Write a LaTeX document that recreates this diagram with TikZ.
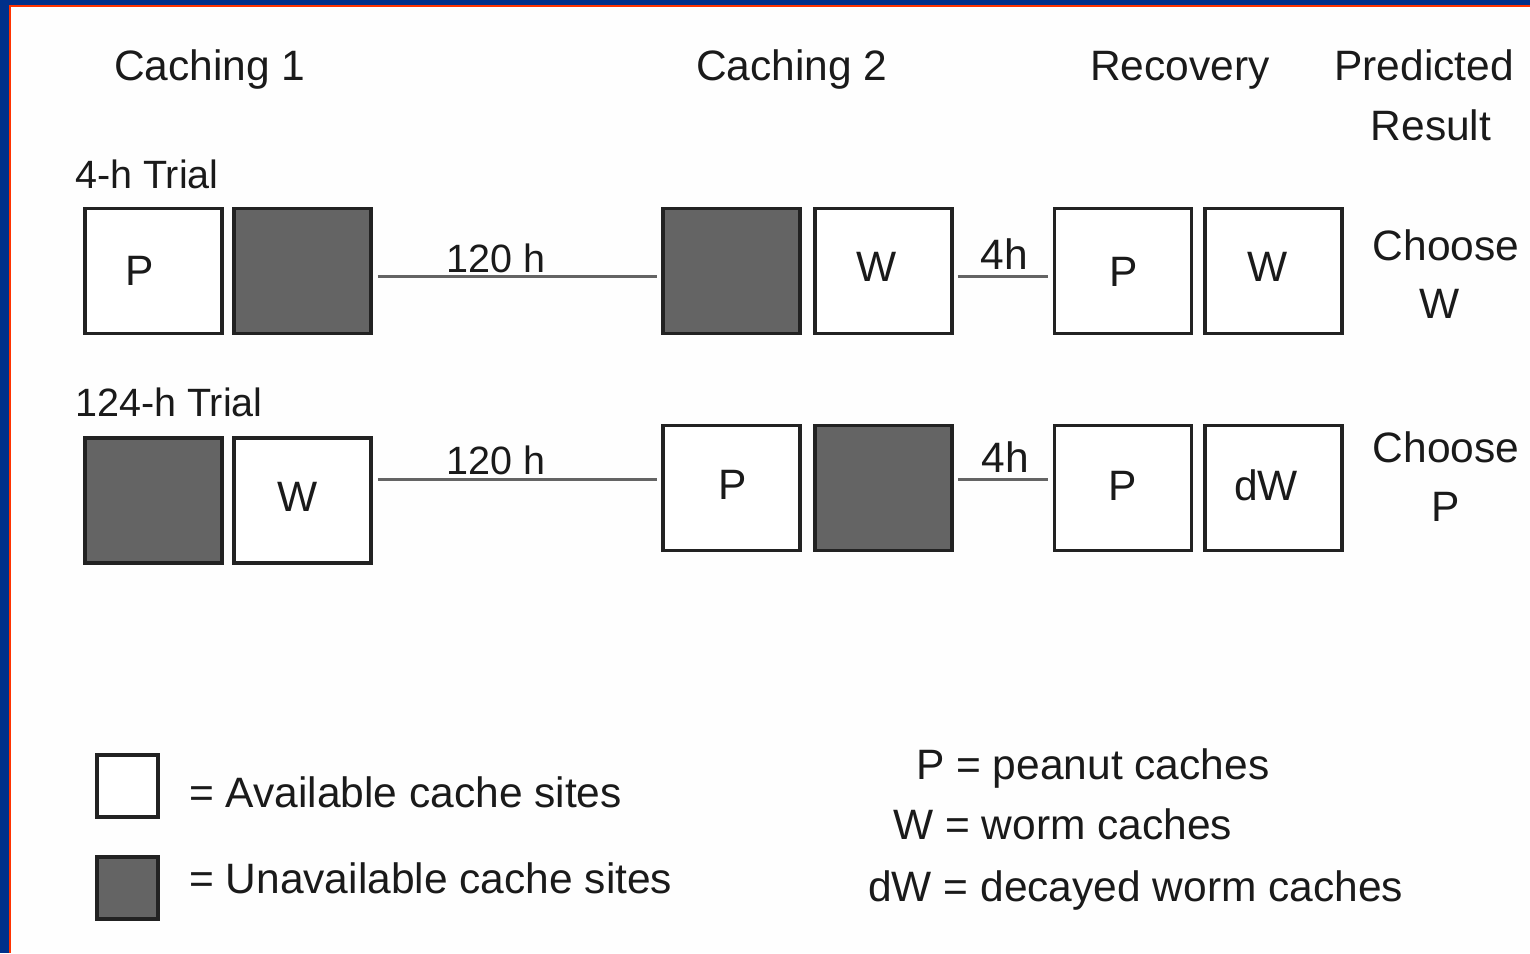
\documentclass[tikz,border=0pt]{standalone}
\usepackage{fontspec}
\setmainfont{Liberation Sans}
\definecolor{frameblue}{HTML}{00308A}
\definecolor{framered}{HTML}{FF3300}
\definecolor{bg}{HTML}{FEFEFE}
\definecolor{boxline}{HTML}{222222}
\definecolor{darkfill}{HTML}{646464}
\definecolor{linegray}{HTML}{646464}
\definecolor{txt}{HTML}{1A1A1A}
\tikzset{
  site/.style={draw=boxline, line width=3.5pt, minimum width=137pt, minimum height=125pt, inner sep=0pt},
  avail/.style={site, fill=white},
  unavail/.style={site, fill=darkfill},
  legbox/.style={draw=boxline, line width=3.5pt, minimum width=61pt, minimum height=62pt, inner sep=0pt},
  conn/.style={draw=linegray, line width=3pt},
  lbl/.style={inner sep=0pt, text=txt, font=\fontsize{42.5}{50}\selectfont},
  lblc/.style={lbl, anchor=base},
  lblw/.style={lbl, anchor=base west},
  small/.style={font=\fontsize{39.5}{47}\selectfont}
}
\begin{document}
\begin{tikzpicture}[x=1pt,y=-1pt]
\useasboundingbox (0,0) rectangle (1530,953);
\fill[frameblue] (0,0) rectangle (1530,953);
\fill[framered] (9,5) rectangle (1530,953);
\fill[bg] (11,7) rectangle (1530,953);

% headers
\node[lblw] (h1) at (114,80) {Caching 1};
\node[lblw] (h2) at (696,80) {Caching 2};
\node[lblw] (h3) at (1090,80) {Recovery};
\node[lblc] (h4) at (1424,80) {Predicted};
\node[lblc] (h5) at (1431,140) {Result};

% row 1
\node[lblw, small] (t1) at (75,188) {4-h Trial};
\node[avail]   (r1b1) at (153.5,271) {};
\node[unavail] (r1b2) at (302.5,271) {};
\node[unavail] (r1b3) at (731.5,271) {};
\node[avail]   (r1b4) at (883.5,271) {};
\node[avail]   (r1b5) at (1123,271) {};
\node[avail]   (r1b6) at (1273.5,271) {};
\node[lblc] (r1p1) at (140,285.5) {P};
\node[lblc] (r1w4) at (877,281.5) {W};
\node[lblc] (r1p5) at (1124,286) {P};
\node[lblc] (r1w6) at (1268,281.5) {W};
\draw[conn] ([xshift=5pt,yshift=-5pt]r1b2.east) -- ([xshift=-4pt,yshift=-5pt]r1b3.west);
\draw[conn] ([xshift=4pt,yshift=-5pt]r1b4.east) -- ([xshift=-5pt,yshift=-5pt]r1b5.west);
\node[lblc, small] (r1l1) at (496,272) {120 h};
\node[lblc] (r1l2) at (1004,269) {4h};
\node[lblc] (r1c1) at (1446,260) {Choose};
\node[lblc] (r1c2) at (1440,318) {W};

% row 2
\node[lblw, small] (t2) at (75,416) {124-h Trial};
\node[unavail] (r2b1) at (153.5,500.5) {};
\node[avail]   (r2b2) at (302.5,500.5) {};
\node[avail]   (r2b3) at (731.5,488) {};
\node[unavail] (r2b4) at (883.5,488) {};
\node[avail]   (r2b5) at (1123,488) {};
\node[avail]   (r2b6) at (1273.5,488) {};
\node[lblc] (r2w2) at (297.5,511.5) {W};
\node[lblc] (r2p3) at (732.5,499) {P};
\node[lblc] (r2p5) at (1123,500.5) {P};
\node[lblc] (r2d6) at (1266,500.5) {dW};
\draw[conn] ([xshift=5pt,yshift=21.5pt]r2b2.east) -- ([xshift=-4pt,yshift=9pt]r2b3.west);
\draw[conn] ([xshift=4pt,yshift=9pt]r2b4.east) -- ([xshift=-5pt,yshift=9pt]r2b5.west);
\node[lblc, small] (r2l1) at (496,474) {120 h};
\node[lblc] (r2l2) at (1005,472) {4h};
\node[lblc] (r2c1) at (1446,462) {Choose};
\node[lblc] (r2c2) at (1446,521) {P};

% legend
\node[legbox, fill=white]    (lg1) at (127.5,786) {};
\node[legbox, fill=darkfill] (lg2) at (127.5,888) {};
\node[lblw] (lt1) at (189,807) {= Available cache sites};
\node[lblw] (lt2) at (189,893) {= Unavailable cache sites};
\node[lblw] (k1) at (916,779) {P = peanut caches};
\node[lblw] (k2) at (893,839) {W = worm caches};
\node[lblw] (k3) at (868,901) {dW = decayed worm caches};
\end{tikzpicture}
\end{document}
